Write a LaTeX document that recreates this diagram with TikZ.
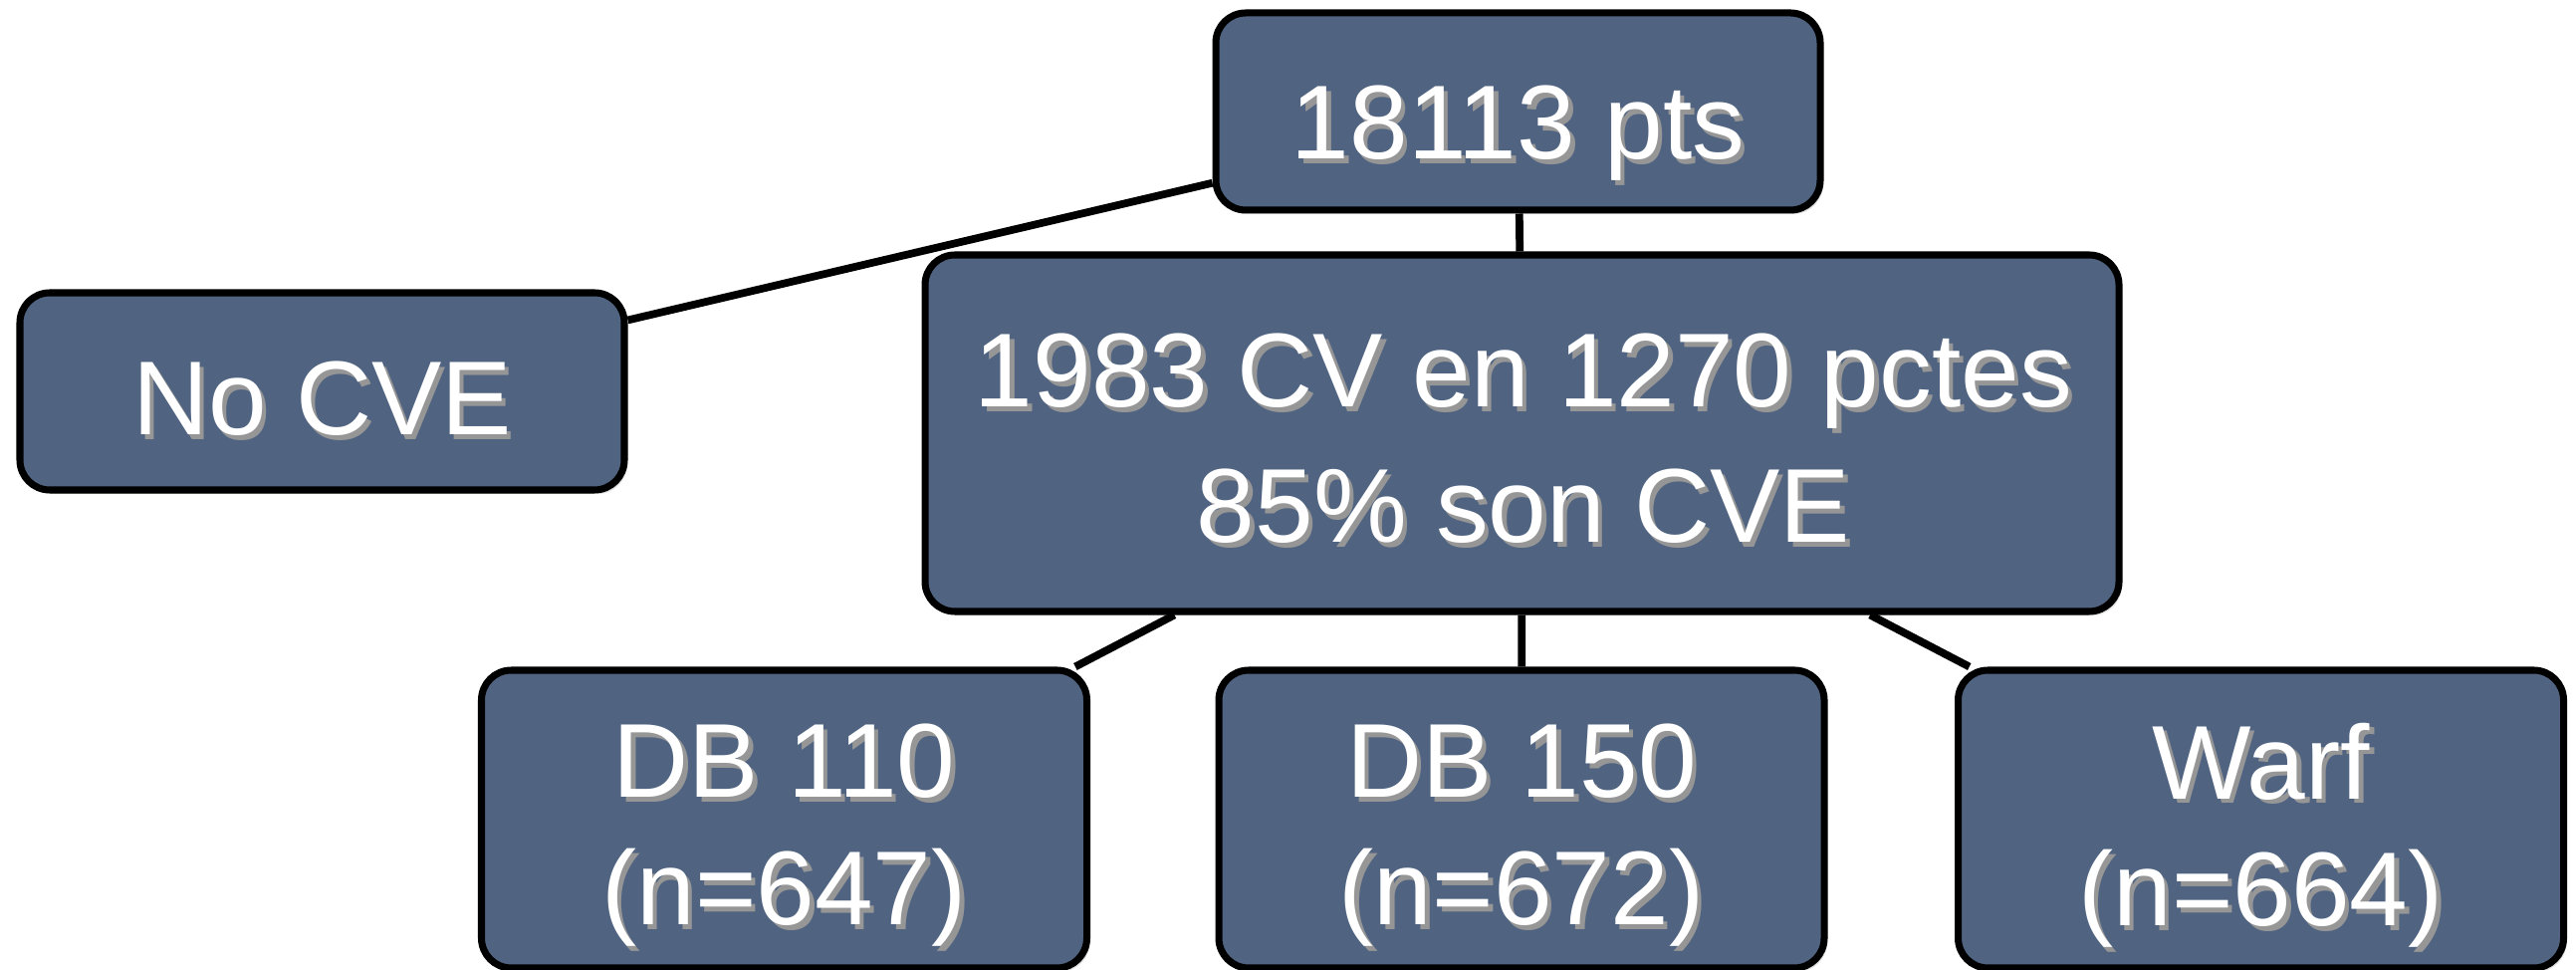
\documentclass[tikz,border=0pt]{standalone}
\usepackage{fontspec}
\setmainfont{Liberation Sans}
\usetikzlibrary{shadows}
\definecolor{boxfill}{RGB}{80,100,130}
\definecolor{txtshadow}{RGB}{150,150,150}
\newcommand\shd[1]{\makebox[0pt][l]{\hspace{0.045cm}\raisebox{-0.045cm}{\textcolor{txtshadow}{#1}}}#1}
\begin{document}
\begin{tikzpicture}[x=1cm,y=1cm,
  box/.style={draw=black, line width=2pt, fill=boxfill, rounded corners=0.3cm, inner sep=0pt,
    drop shadow={shadow xshift=0.03cm, shadow yshift=-0.04cm, fill=black!25}},
  smallbox/.style={box, minimum width=6.07cm, minimum height=1.98cm},
  leafbox/.style={box, minimum width=6.08cm, minimum height=2.99cm},
  lbl/.style={text=white, font=\fontsize{30}{36}\selectfont, align=center, inner sep=0pt},
  conn/.style={line width=2.2pt, draw=black}]
\useasboundingbox (0,0) rectangle (25.87,-9.74);
% boxes
\node[smallbox] (top) at (15.245,-1.12) {};
\node[smallbox] (nocve) at (3.235,-3.93) {};
\node[box, minimum width=11.99cm, minimum height=3.58cm] (mid) at (15.285,-4.35) {};
\node[leafbox] (db110) at (7.875,-8.225) {};
\node[leafbox] (db150) at (15.28,-8.225) {};
\node[leafbox] (warf) at (22.705,-8.225) {};
% connectors
\draw[conn] (top) -- (nocve);
\draw[conn] (top) -- (mid);
\draw[conn] (mid) -- (db110);
\draw[conn] (mid) -- (db150);
\draw[conn] (mid) -- (warf);
% texts
\node[lbl, anchor=base] (topT) at (15.245,-1.60) {\shd{18113 pts}};
\node[lbl, anchor=base] (nocveT) at (3.235,-4.37) {\shd{No CVE}};
\node[lbl, font=\fontsize{30}{38.7}\selectfont] (midT) at (15.30,-4.425) {\shd{1983 CV en 1270 pctes}\\\shd{85\% son CVE}};
\node[lbl, font=\fontsize{30}{36.4}\selectfont] (db110T) at (7.875,-8.41) {\shd{DB 110}\\\shd{(n=647)}};
\node[lbl, font=\fontsize{30}{36.4}\selectfont] (db150T) at (15.28,-8.41) {\shd{DB 150}\\\shd{(n=672)}};
\node[lbl, font=\fontsize{30}{36.4}\selectfont] (warfT) at (22.705,-8.41) {\shd{Warf}\\\shd{(n=664)}};
\end{tikzpicture}
\end{document}
